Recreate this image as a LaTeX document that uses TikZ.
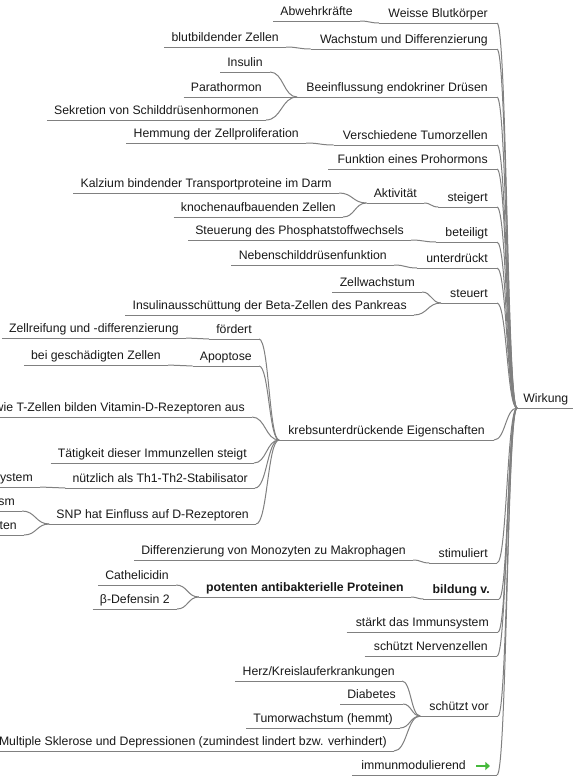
\documentclass[tikz,border=0pt]{standalone}
\usepackage{fontspec}
\setmainfont{Liberation Sans}
\usepackage{tikz}
\usetikzlibrary{arrows.meta, calc}
\definecolor{edgegray}{RGB}{128,128,128}
\definecolor{textdark}{RGB}{25,25,25}
\definecolor{markgreen}{RGB}{70,185,60}

\begin{document}
\begin{tikzpicture}[
    x=0.75pt, y=-0.75pt,
    topic/.style={
        inner xsep=5.25pt,
        inner ysep=1.5pt,
        text height=7pt,
        text depth=2.25pt,
        text=textdark,
        font=\fontsize{9.2}{11}\selectfont,
        anchor=south east
    },
    main/.style={topic, inner xsep=6.75pt},
    strong/.style={font=\fontsize{9.2}{11}\selectfont\bfseries},
    branchline/.style={draw=edgegray, line width=0.75pt},
    swoop/.style={to path={let \p1=(\tikztostart), \p2=(\tikztotarget) in
        .. controls ({(\x1+\x2)/2},\y1) and ({(\x1+\x2)/2},\y2) .. (\tikztotarget)}}
]
\fill[white] (0,0) rectangle (573,776);
\path[use as bounding box] (0,0) rectangle (573,776);
\clip (0,0) rectangle (573,776);

% root
\node (wirkung) [topic, anchor=south west, inner xsep=4.5pt] at (517,408) {Wirkung};

% first level
\node (weisse) [main] at (497,23) {Weisse Blutkörper};
\node (wachstum) [main] at (497,49) {Wachstum und Differenzierung};
\node (endokrin) [main] at (497,97) {Beeinflussung endokriner Drüsen};
\node (tumor) [main] at (497,145) {Verschiedene Tumorzellen};
\node (prohormon) [main] at (497,169) {Funktion eines Prohormons};
\node (steigert) [main] at (497,207) {steigert};
\node (beteiligt) [main] at (497,242) {beteiligt};
\node (unterdrueckt) [main] at (497,268) {unterdrückt};
\node (steuert) [main] at (497,303) {steuert};
\node (krebs) [main] at (494,440) {krebsunterdrückende Eigenschaften};
\node (stimuliert) [main] at (497,563) {stimuliert};
\node (bildung) [main, strong] at (499,599) {bildung v.};
\node (immunsys) [main] at (498,632) {stärkt das Immunsystem};
\node (nerven) [main] at (497,656) {schützt Nervenzellen};
\node (schutz) [main] at (498,716) {schützt vor};
\node (modul) [main] at (497,775) {immunmodulierend\rule{16.5pt}{0pt}};

% second and third level
\node (abwehr) [topic] at (360,21) {Abwehrkräfte};
\node (blut) [topic] at (286,47) {blutbildender Zellen};
\node (insulin) [topic] at (270,72) {Insulin};
\node (parat) [topic] at (269,97) {Parathormon};
\node (schild) [topic] at (266,120) {Sekretion von Schilddrüsenhormonen};
\node (hemmung) [topic] at (306,143) {Hemmung der Zellproliferation};
\node (aktiv) [topic] at (424,203) {Aktivität};
\node (kalzium) [topic] at (339,193) {Kalzium bindender Transportproteine im Darm};
\node (knochen) [topic] at (343,217) {knochenaufbauenden Zellen};
\node (phosphat) [topic] at (411,240) {Steuerung des Phosphatstoffwechsels};
\node (neben) [topic] at (394,265) {Nebenschilddrüsenfunktion};
\node (zellw) [topic] at (422,292) {Zellwachstum};
\node (beta) [topic] at (414,315) {Insulinausschüttung der Beta-Zellen des Pankreas};
\node (foerdert) [topic] at (259,339) {fördert};
\node (reifung) [topic] at (186,338) {Zellreifung und -differenzierung};
\node (apoptose) [topic] at (259,366) {Apoptose};
\node (geschaedigt) [topic] at (168,365) {bei geschädigten Zellen};
\node (rezeptor) [topic] at (252,417) {wie T-Zellen bilden Vitamin-D-Rezeptoren aus};
\node (taetigkeit) [topic] at (254,463) {Tätigkeit dieser Immunzellen steigt};
\node (stabil) [topic] at (255,488) {nützlich als Th1-Th2-Stabilisator};
\node (ystem) [topic] at (40,487) {ystem};
\node (snp) [topic] at (256,524) {SNP hat Einfluss auf D-Rezeptoren};
\node (sm) [topic] at (22,511) {sm};
\node (ten) [topic] at (24,535) {ten};
\node (monozyt) [topic] at (413,560) {Differenzierung von Monozyten zu Makrophagen};
\node (protein) [topic, strong] at (411,597) {potenten antibakterielle Proteinen};
\node (cathel) [topic] at (176,585) {Cathelicidin};
\node (defensin) [topic] at (177,609) {β-Defensin 2};
\node (herz) [topic] at (402,681) {Herz/Kreislauferkrankungen};
\node (diabetes) [topic] at (403,704) {Diabetes};
\node (tumorw) [topic] at (400,728) {Tumorwachstum (hemmt)};
\node (ms) [topic] at (394,751) {Multiple Sklerose und Depressionen (zumindest lindert bzw. verhindert)};

% underlines
\foreach \n in {wirkung, weisse, wachstum, endokrin, tumor, prohormon, steigert,
    beteiligt, unterdrueckt, steuert, krebs, stimuliert, bildung, immunsys, nerven,
    schutz, modul, abwehr, blut, insulin, parat, schild, hemmung, aktiv, kalzium,
    knochen, phosphat, neben, zellw, beta, foerdert, reifung, apoptose, geschaedigt,
    rezeptor, taetigkeit, stabil, ystem, snp, sm, ten, monozyt, protein, cathel,
    defensin, herz, diabetes, tumorw, ms}
    \draw[branchline] (\n.south west) -- (\n.south east);

% connectors
\foreach \kid/\mom in {weisse/wirkung, wachstum/wirkung, endokrin/wirkung, tumor/wirkung,
    prohormon/wirkung, steigert/wirkung, beteiligt/wirkung, unterdrueckt/wirkung,
    steuert/wirkung, krebs/wirkung, stimuliert/wirkung, bildung/wirkung,
    immunsys/wirkung, nerven/wirkung, schutz/wirkung, modul/wirkung,
    abwehr/weisse, blut/wachstum, insulin/endokrin, parat/endokrin, schild/endokrin,
    hemmung/tumor, aktiv/steigert, kalzium/aktiv, knochen/aktiv, phosphat/beteiligt,
    neben/unterdrueckt, zellw/steuert, beta/steuert, foerdert/krebs, reifung/foerdert,
    apoptose/krebs, geschaedigt/apoptose, rezeptor/krebs, taetigkeit/krebs,
    stabil/krebs, ystem/stabil, snp/krebs, sm/snp, ten/snp, monozyt/stimuliert,
    protein/bildung, cathel/protein, defensin/protein, herz/schutz, diabetes/schutz,
    tumorw/schutz, ms/schutz}
    \draw[branchline] (\kid.south east) to[swoop] (\mom.south west);

% icon
\draw[markgreen, line width=1.6pt, -{Triangle[length=3.5pt, width=6pt]}]
    ($(modul.south east)+(-21,-9)$) -- ($(modul.south east)+(-7,-9)$);

\end{tikzpicture}
\end{document}
